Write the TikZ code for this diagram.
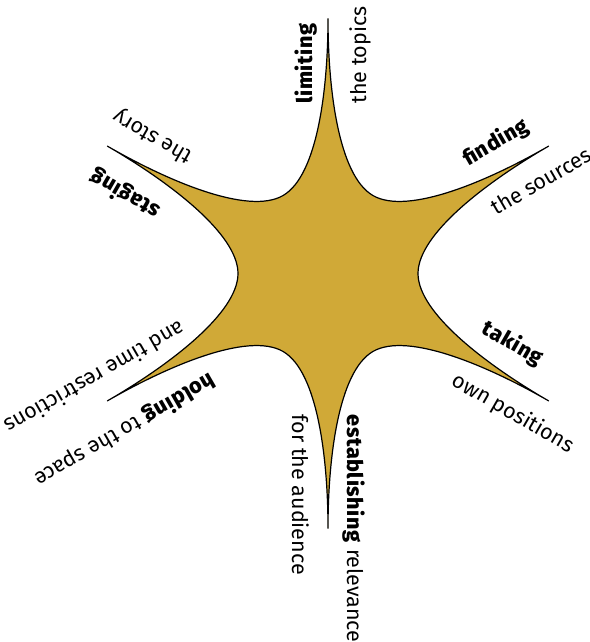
\documentclass[tikz,border=0pt]{standalone}
\usepackage{fontspec}
\setmainfont{Fira Sans}[BoldFont={Fira Sans ExtraBold},BoldFeatures={LetterSpace=3}]
\usetikzlibrary{calc}
\definecolor{stargold}{RGB}{208,169,55}
\tikzset{
  starshape/.style={fill=stargold, draw=black, line width=1.2pt, line join=miter},
  lab/.style={inner sep=0pt, outer sep=0pt, anchor=base west, font=\fontsize{21.5}{26}\selectfont},
}
\newcommand{\raylabel}[7]{%
  \node[lab, rotate=#2] (#1a) at ($(#2:#3pt)+(#2+90:#4pt)$) {#6};
  \node[lab, rotate=#2] (#1b) at ($(#2:#3pt)+(#2-90:#5pt)$) {#7};
}
\begin{document}
\begin{tikzpicture}
\useasboundingbox (-328pt,-368.5pt) rectangle (261pt,273.5pt);
\filldraw[starshape] (90:255pt)
  \foreach \a in {90,30,-30,-90,-150,-210} {
    .. controls (\a:185pt) and ($(\a-30:90pt)+(\a+60:40pt)$) .. (\a-30:90pt)
    .. controls ($(\a-30:90pt)+(\a-120:40pt)$) and (\a-60:185pt) .. (\a-60:255pt)
  } -- cycle;
\raylabel{top}{90}{170}{16}{38}{\textbf{limiting}}{the topics}
\raylabel{ur}{30}{175}{23}{34}{\textbf{finding}}{the sources}
\raylabel{lr}{-30}{162}{25}{35}{\textbf{taking}}{own positions}
\raylabel{bot}{-90}{141}{19}{36}{\textbf{establishing} relevance}{for the audience}
\raylabel{ll}{210}{152}{27}{34}{\textbf{holding} to the space}{and time restrictions}
\raylabel{ul}{150}{177}{26}{37}{\textbf{staging}}{the story}
\end{tikzpicture}
\end{document}
